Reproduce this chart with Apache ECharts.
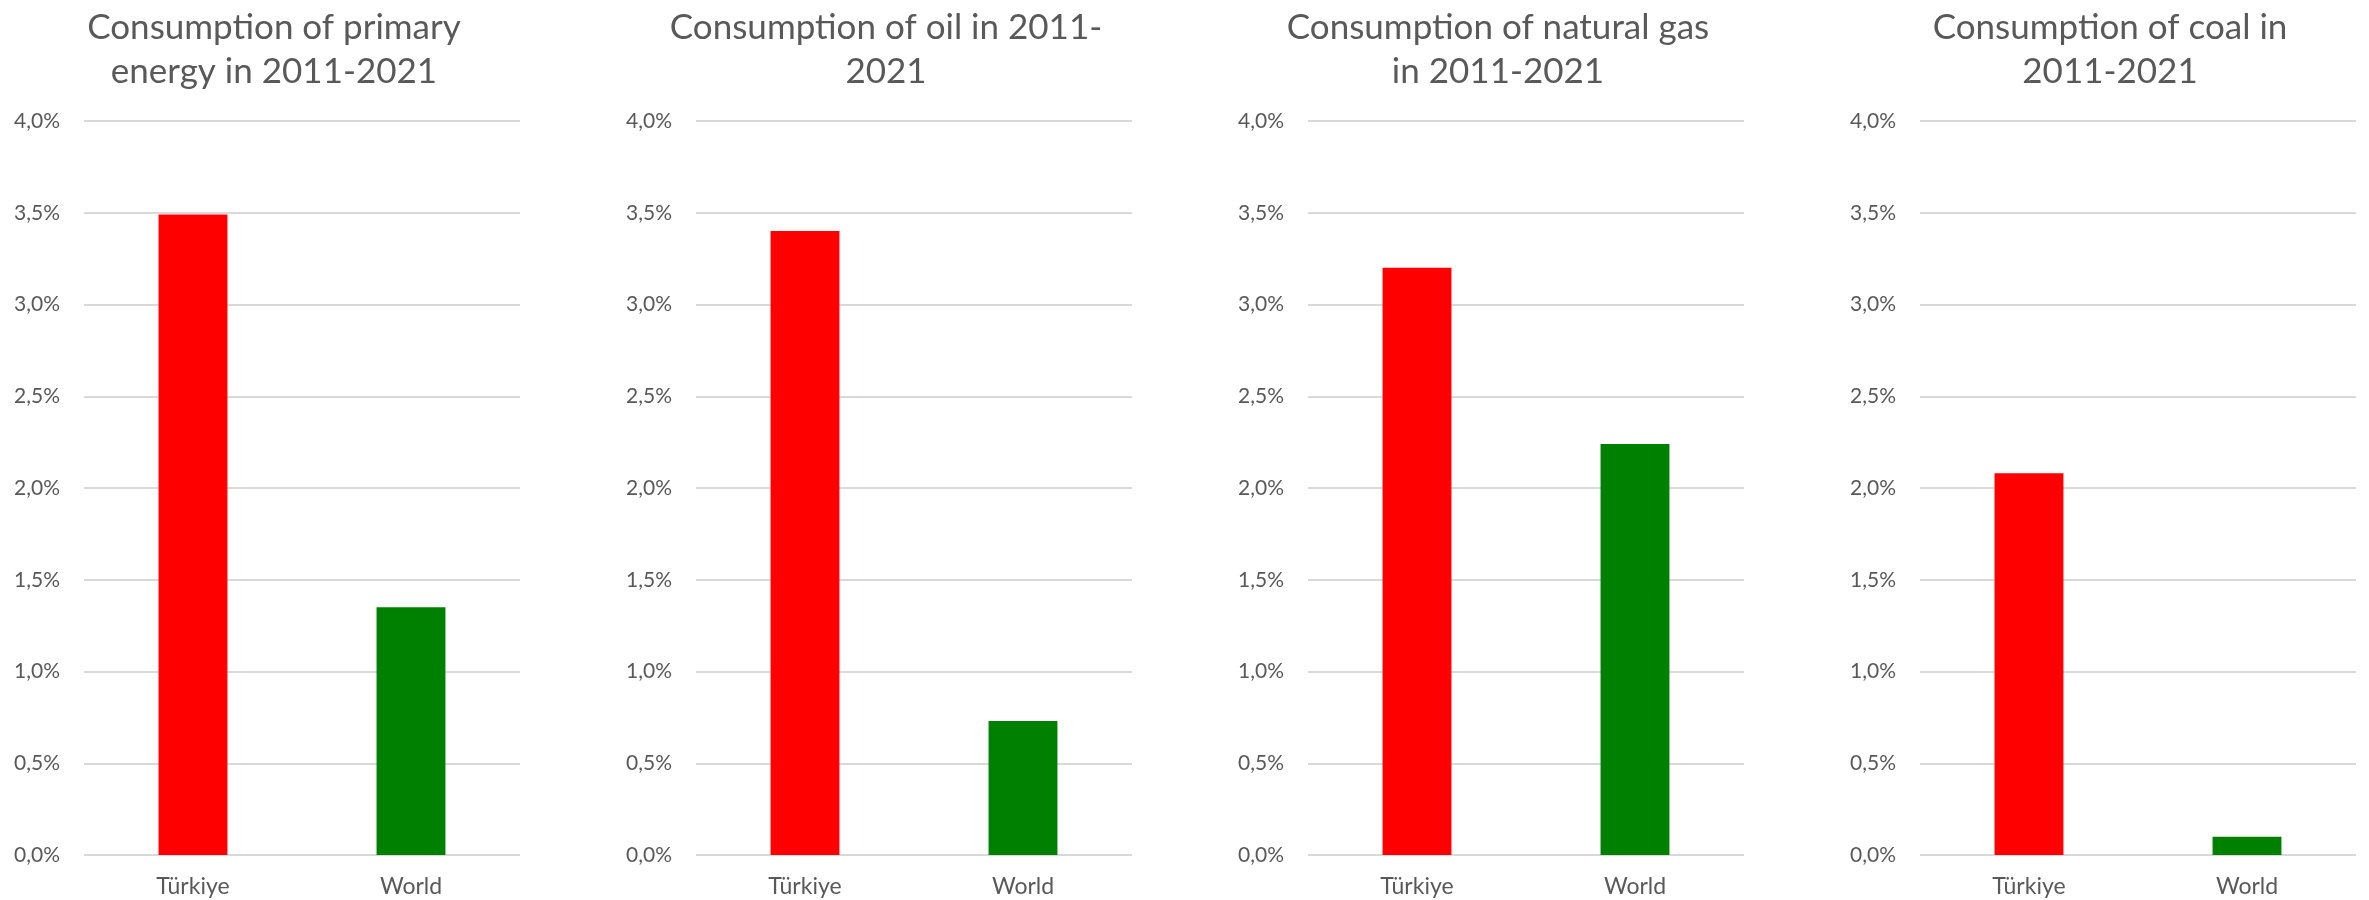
<!DOCTYPE html>
<html>
<head>
<meta charset="utf-8">
<title>Consumption 2011-2021</title>
<script src="https://cdn.jsdelivr.net/npm/echarts@6/dist/echarts.min.js"></script>
<style>
  html, body { margin: 0; padding: 0; background: #fff; }
  #chart { width: 2369px; height: 900px; }
</style>
</head>
<body>
<div id="chart"></div>
<script>
// average annual growth, %
const categories = ['Türkiye', 'World']
const panelTitles = [
  'Consumption of primary\nenergy in 2011-2021',
  'Consumption of oil in 2011-\n2021',
  'Consumption of natural gas\nin 2011-2021',
  'Consumption of coal in\n2011-2021'
]
const turkiyeValues = [3.49, 3.40, 3.20, 2.08]
const worldValues = [1.35, 0.73, 2.24, 0.10]
const barColors = ['#FF0000', '#008000']

const textColor = '#595959'
const fontFamily = 'Lato, "Open Sans", sans-serif'
const gridLefts = [84, 696, 1308, 1920]
const gridWidth = 436

const chart = echarts.init(document.getElementById('chart'))

const titles = []
const grids = []
const xAxes = []
const yAxes = []
const series = []

gridLefts.forEach((left, i) => {
  titles.push({
    text: panelTitles[i],
    left: left + 190,
    top: 6,
    textAlign: 'center',
    padding: 0,
    textStyle: {
      color: textColor,
      fontFamily: fontFamily,
      fontSize: 35,
      fontWeight: 'normal',
      lineHeight: 44
    }
  })
  grids.push({
    left: left,
    width: gridWidth,
    top: 121,
    bottom: 45
  })
  xAxes.push({
    type: 'category',
    gridIndex: i,
    data: categories,
    axisLine: { show: false },
    axisTick: { show: false },
    axisLabel: {
      color: textColor,
      fontFamily: fontFamily,
      fontSize: 23,
      margin: 20
    }
  })
  yAxes.push({
    type: 'value',
    gridIndex: i,
    min: 0,
    max: 4,
    interval: 0.5,
    axisLine: { show: false },
    axisTick: { show: false },
    splitLine: {
      lineStyle: { color: '#D9D9D9', width: 2 }
    },
    axisLabel: {
      color: textColor,
      fontFamily: fontFamily,
      fontSize: 21,
      margin: 24,
      formatter: v => v.toFixed(1).replace('.', ',') + '%'
    }
  })
  series.push({
    type: 'bar',
    xAxisIndex: i,
    yAxisIndex: i,
    barWidth: '31.6%',
    animation: false,
    data: [turkiyeValues[i], worldValues[i]].map((v, j) => ({
      value: v,
      itemStyle: { color: barColors[j] }
    }))
  })
})

chart.setOption({
  backgroundColor: '#fff',
  title: titles,
  grid: grids,
  xAxis: xAxes,
  yAxis: yAxes,
  series: series
})
</script>
</body>
</html>
